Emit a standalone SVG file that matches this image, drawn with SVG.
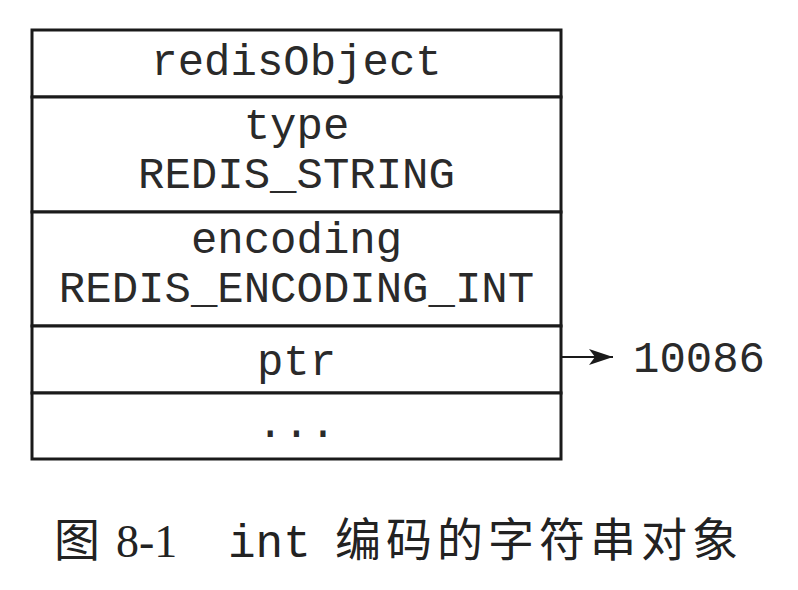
<svg xmlns="http://www.w3.org/2000/svg" width="798" height="590" viewBox="0 0 798 590">
<defs>
<style>
.cell{fill:#fff;stroke:#1a1a1a;stroke-width:3}
.m{font-family:"Liberation Mono","DejaVu Sans Mono",monospace;font-size:44px;fill:#2a2a2a;text-anchor:middle}
.cap{font-family:"Liberation Serif","Noto Sans CJK SC",serif;font-size:46px;fill:#222}
.capc{font-family:"Noto Sans CJK SC",sans-serif;font-size:46px;fill:#222}
.capm{font-family:"Liberation Mono",monospace;font-size:46px;fill:#222}
</style>
<marker id="ah" viewBox="0 0 24 16" refX="24" refY="8" markerWidth="24" markerHeight="16" markerUnits="userSpaceOnUse" orient="auto">
<path d="M0,0 L24,8 L0,16 L6,8 Z" fill="#1a1a1a"/>
</marker>
</defs>
<rect width="798" height="590" fill="#fff"/>
<g id="redisObject">
<rect class="cell" x="32" y="30" width="529" height="67"/>
<text class="m" x="296.5" y="75">redisObject</text>
</g>
<g id="type">
<rect class="cell" x="32" y="97" width="529" height="115"/>
<text class="m" x="296.5" y="139">type</text>
<text class="m" x="296.5" y="188">REDIS_STRING</text>
</g>
<g id="encoding">
<rect class="cell" x="32" y="212" width="529" height="114"/>
<text class="m" x="296.5" y="253">encoding</text>
<text class="m" x="296.5" y="302">REDIS_ENCODING_INT</text>
</g>
<g id="ptr">
<rect class="cell" x="32" y="326" width="529" height="67"/>
<text class="m" x="296.5" y="375">ptr</text>
</g>
<g id="rest">
<rect class="cell" x="32" y="393" width="529" height="66"/>
<text class="m" x="296.5" y="437">...</text>
</g>
<g id="value">
<text class="m" x="699" y="372">10086</text>
</g>
<g id="connectors">
<line x1="561" y1="357" x2="613" y2="357" stroke="#1a1a1a" stroke-width="2" marker-end="url(#ah)"/>
</g>
<g id="caption">
<text class="capc" x="54" y="556">图</text>
<text class="cap" x="116" y="557">8-1</text>
<text class="capm" x="228" y="557">int</text>
<text class="capc" x="335" y="556" letter-spacing="5">编码的字符串对象</text>
</g>
</svg>
